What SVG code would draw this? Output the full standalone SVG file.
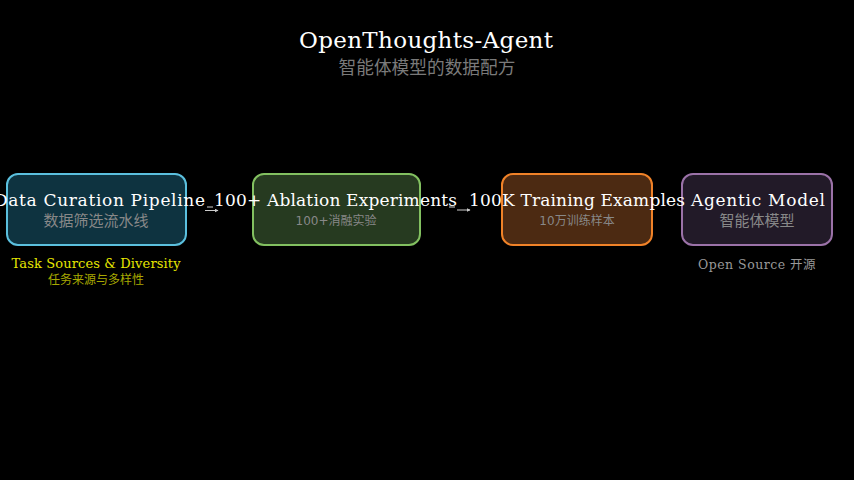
<svg xmlns="http://www.w3.org/2000/svg" width="854" height="480" viewBox="0 0 854 480">
<defs>
<marker id="ah" markerWidth="4" markerHeight="4" refX="3.5" refY="2" orient="auto" markerUnits="userSpaceOnUse"><path d="M0,0 L4,2 L0,4 Z" fill="#cccccc"/></marker>
<style>
.box{stroke-width:2}
.lbl{font-family:"DejaVu Serif",serif;font-size:17px;fill:#ffffff;text-anchor:middle}
.sub{font-family:"DejaVu Sans","Noto Sans CJK SC",sans-serif;fill:#888888;text-anchor:middle}
.conn{stroke:#cccccc;stroke-width:1;fill:none}
</style>
</defs>
<rect width="854" height="480" fill="#000000"/>
<g id="title">
<text x="426" y="48" font-family="DejaVu Serif, serif" font-size="23" fill="#ffffff" text-anchor="middle" textLength="254">OpenThoughts-Agent</text>
<text x="427" y="74" font-family="Noto Sans CJK SC, sans-serif" font-size="17.7" fill="#7a7a7a" text-anchor="middle">智能体模型的数据配方</text>
</g>
<g id="connectors">
<line class="conn" x1="207" y1="207" x2="213" y2="207"/>
<line class="conn" x1="205" y1="210.5" x2="218" y2="210.5" marker-end="url(#ah)"/>
<line class="conn" x1="449" y1="207" x2="455" y2="207"/>
<line class="conn" x1="457" y1="210" x2="470" y2="210" marker-end="url(#ah)"/>
</g>
<g id="node1">
<rect class="box" x="7" y="174" width="179" height="71" rx="11" fill="#0e3340" stroke="#5bc0de"/>
<text class="lbl" x="99.5" y="206" textLength="211">Data Curation Pipeline</text>
<text class="sub" x="96" y="226" font-size="15" fill="#7f9496">数据筛选流水线</text>
<text x="96" y="268" font-family="DejaVu Serif, serif" font-size="13" fill="#e6e600" text-anchor="middle" textLength="169">Task Sources &amp; Diversity</text>
<text x="96" y="284" font-family="Noto Sans CJK SC, sans-serif" font-size="12" fill="#a8a800" text-anchor="middle">任务来源与多样性</text>
</g>
<g id="node2">
<rect class="box" x="253" y="174" width="167" height="71" rx="11" fill="#263a20" stroke="#82c060"/>
<text class="lbl" x="335.5" y="206" textLength="243">100+ Ablation Experiments</text>
<text class="sub" x="336" y="225" font-size="12" fill="#80907a">100+消融实验</text>
</g>
<g id="node4">
<rect class="box" x="682" y="174" width="150" height="71" rx="11" fill="#221a28" stroke="#9b72a8"/>
<text class="lbl" x="758" y="206" textLength="134">Agentic Model</text>
<text class="sub" x="757" y="226" font-size="15">智能体模型</text>
<text x="757" y="269" font-family="DejaVu Serif, serif" font-size="12.5" fill="#999999" text-anchor="middle" letter-spacing="0.5">Open Source <tspan font-family="Noto Sans CJK SC, sans-serif">开源</tspan></text>
</g>
<g id="node3">
<rect class="box" x="502" y="174" width="150" height="71" rx="11" fill="#4c2a12" stroke="#f08228"/>
<text class="lbl" x="577" y="206" textLength="216">100K Training Examples</text>
<text class="sub" x="577" y="225" font-size="12" fill="#a08468">10万训练样本</text>
</g>
</svg>
